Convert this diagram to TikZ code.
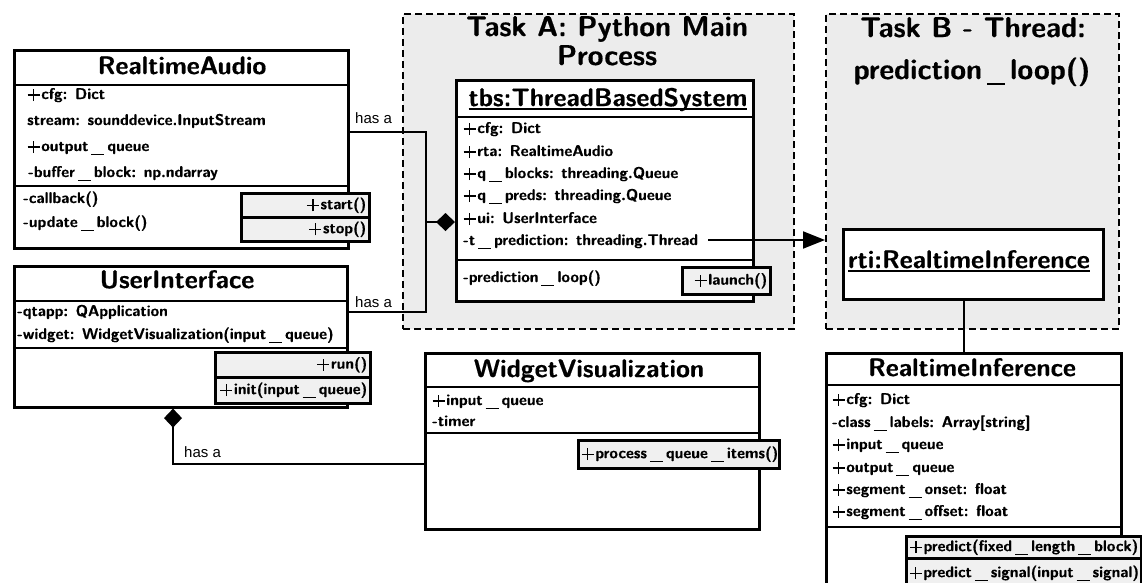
\documentclass[tikz,border=0pt]{standalone}
\usepackage{fontspec}
\setsansfont{Latin Modern Sans}[BoldFeatures={FakeBold=0.5}]
\newfontfamily\labelfont{Liberation Sans}
\usetikzlibrary{arrows.meta}
% fonts for the UML boxes
\newcommand\attrf{\sffamily\bfseries\fontsize{15.5pt}{18pt}\selectfont}
\newcommand\titlef{\sffamily\bfseries\fontsize{25.3pt}{30pt}\selectfont}
\newcommand\taskf{\sffamily\bfseries\fontsize{28.6pt}{33pt}\selectfont}
% spaced underscores as printed in the member names
\newcommand\us{\kern3pt\rule[-4pt]{13pt}{1.1pt}\kern3pt}
\newcommand\usbig{\kern5pt\rule[-6pt]{18pt}{1.8pt}\kern5pt}
% visibility plus sign
\newcommand\pl{\kern0.5pt\rlap{\rule[3.4pt]{12pt}{1.2pt}}\kern5.4pt\rule[-2.1pt]{1.2pt}{12pt}\kern5.4pt\kern1.6pt}
% underline sitting just below the baseline
\newcommand\ul[1]{\setbox0\hbox{#1}\rlap{\rule[-3.5pt]{\wd0}{1.3pt}}\box0}
\begin{document}
\begin{tikzpicture}[x=1pt,y=-1pt,
  area/.style={draw, fill=gray!15, line width=2.4pt, dash pattern=on 7pt off 4pt,
    anchor=north west, inner sep=0pt},
  areatitle/.style={font=\taskf, anchor=base, inner sep=0pt},
  classbox/.style={draw, fill=white, line width=2.6pt, anchor=north west, inner sep=0pt},
  sepline/.style={line width=2pt},
  ctitle/.style={font=\titlef, anchor=base, inner sep=0pt},
  attr/.style={font=\attrf, anchor=base west, inner sep=0pt},
  methbox/.style={draw, fill=gray!12, line width=2.6pt, anchor=north west,
    inner xsep=3pt, inner ysep=0pt, align=right, font=\attrf},
  conn/.style={line width=2pt},
  hasa/.style={font=\labelfont\fontsize{15pt}{18pt}\selectfont, anchor=base west, inner sep=0pt}
]
\useasboundingbox (0,0) rectangle (1142,582);

% ---- process / thread areas
\node[area, minimum width=391pt, minimum height=315pt] (taskA) at (402,13) {};
\node[area, minimum width=293pt, minimum height=315pt] (taskB) at (825,13) {};
\node[areatitle] (taskAt1) at (607,36) {Task A: Python Main};
\node[areatitle] (taskAt2) at (607,65) {Process};
\node[areatitle] (taskBt1) at (973,37) {Task B - Thread:};
\node[areatitle] (taskBt2) at (972,79) {prediction\usbig loop()};

% ---- RealtimeAudio
\node[classbox, minimum width=334pt, minimum height=198pt] (ra) at (13,49) {};
\draw[sepline] (ra.west |- 0,85) -- (ra.east |- 0,85);
\draw[sepline] (ra.west |- 0,186) -- (ra.east |- 0,186);
\node[ctitle] (rat) at (182,74) {RealtimeAudio};
\node[attr] (ra1) at (27,99) {\pl cfg: Dict};
\node[attr] (ra2) at (27,125) {stream: sounddevice.InputStream};
\node[attr] (ra3) at (27,151) {\pl output\us queue};
\node[attr] (ra4) at (28,177) {-buffer\us block: np.ndarray};
\node[attr] (ra5) at (23,203) {-callback()};
\node[attr] (ra6) at (23,227) {-update\us block()};
\node[methbox, text width=122pt, minimum height=24pt] (rastart) at (240,192) {\pl start()};
\node[methbox, text width=122pt, minimum height=24pt] (rastop) at (240,216) {\pl stop()};

% ---- UserInterface
\node[classbox, minimum width=333pt, minimum height=141pt] (ui) at (13,265) {};
\draw[sepline] (ui.west |- 0,301) -- (ui.east |- 0,301);
\draw[sepline] (ui.west |- 0,348) -- (ui.east |- 0,348);
\node[ctitle] (uit) at (177,288) {UserInterface};
\node[attr] (ui1) at (17,316) {-qtapp: QApplication};
\node[attr] (ui2) at (17,339) {-widget: WidgetVisualization(input\us queue)};
\node[methbox, text width=149pt, minimum height=25pt] (uirun) at (214,351) {\pl run()};
\node[methbox, text width=149pt, minimum height=26pt] (uiinit) at (214,376) {\pl init(input\us queue)};

% ---- tbs:ThreadBasedSystem
\node[classbox, minimum width=297pt, minimum height=221pt] (tbs) at (455,79) {};
\draw[sepline] (tbs.west |- 0,117) -- (tbs.east |- 0,117);
\draw[sepline] (tbs.west |- 0,260) -- (tbs.east |- 0,260);
\node[ctitle] (tbst) at (608,106) {\ul{tbs:ThreadBasedSystem}};
\node[attr] (tbs1) at (463,133) {\pl cfg: Dict};
\node[attr] (tbs2) at (463,156) {\pl rta: RealtimeAudio};
\node[attr] (tbs3) at (463,178) {\pl q\us blocks: threading.Queue};
\node[attr] (tbs4) at (463,200) {\pl q\us preds: threading.Queue};
\node[attr] (tbs5) at (463,223) {\pl ui: UserInterface};
\node[attr] (tbs6) at (463,245) {-t\us prediction: threading.Thread};
\node[attr] (tbs7) at (463,282) {-prediction\us loop()};
\node[methbox, text width=82pt, minimum height=27pt] (launch) at (681,266) {\pl launch()};

% ---- rti:RealtimeInference
\node[classbox, minimum width=260pt, minimum height=70pt] (rti) at (842,228) {};
\node[ctitle] (rtit) at (969,268) {\ul{rti:RealtimeInference}};

% ---- WidgetVisualization
\node[classbox, minimum width=334pt, minimum height=176pt] (wv) at (424,352) {};
\draw[sepline] (wv.west |- 0,387) -- (wv.east |- 0,387);
\draw[sepline] (wv.west |- 0,433) -- (wv.east |- 0,433);
\node[ctitle] (wvt) at (589,377) {WidgetVisualization};
\node[attr] (wv1) at (432,405) {\pl input\us queue};
\node[attr] (wv2) at (432,426) {-timer};
\node[methbox, text width=195pt, minimum height=28pt] (wvproc) at (577,439) {\pl process\us queue\us items()};

% ---- RealtimeInference
\node[classbox, minimum width=295pt, minimum height=250pt] (ri) at (825,352) {};
\draw[sepline] (ri.west |- 0,385) -- (ri.east |- 0,385);
\draw[sepline] (ri.west |- 0,527) -- (ri.east |- 0,527);
\node[ctitle] (rit) at (972,376) {RealtimeInference};
\node[attr] (ri1) at (832,404) {\pl cfg: Dict};
\node[attr] (ri2) at (832,427) {-class\us labels: Array[string]};
\node[attr] (ri3) at (832,449) {\pl input\us queue};
\node[attr] (ri4) at (832,472) {\pl output\us queue};
\node[attr] (ri5) at (832,494) {\pl segment\us onset: float};
\node[attr] (ri6) at (832,516) {\pl segment\us offset: float};
\node[methbox, text width=229pt, minimum height=22pt] (ripred) at (905,535) {\pl predict(fixed\us length\us block)};
\node[methbox, text width=229pt, minimum height=30pt] (risig) at (905,557) {\pl predict\us signal(input\us signal)};

% ---- connectors
\coordinate (ja) at (426,132);
\coordinate (jb) at (426,312);
\coordinate (jc) at (426,222);
\draw[conn] (ra.east |- ja) -- (ja) -- (jb) -- (ui.east |- jb);
\draw[conn, -{Diamond[length=19pt,width=18pt]}] (jc) -- (jc -| tbs.west);
\node[hasa] (hasa1) at (355,123) {has a};
\node[hasa] (hasa2) at (355,307) {has a};

\coordinate (jd) at (173,464);
\draw[conn, -{Diamond[length=19pt,width=18pt]}] (wv.west |- jd) -- (jd) -- (jd |- ui.south);
\node[hasa] (hasa3) at (184,457) {has a};

\coordinate (tp) at (708,240);
\draw[conn, -{Triangle[length=22pt,width=17pt]}] (tp) -- (tp -| taskB.west);

\draw[conn] ([xshift=-9pt]rti.south) -- ([xshift=-9pt]rti.south |- ri.north);
\end{tikzpicture}
\end{document}
